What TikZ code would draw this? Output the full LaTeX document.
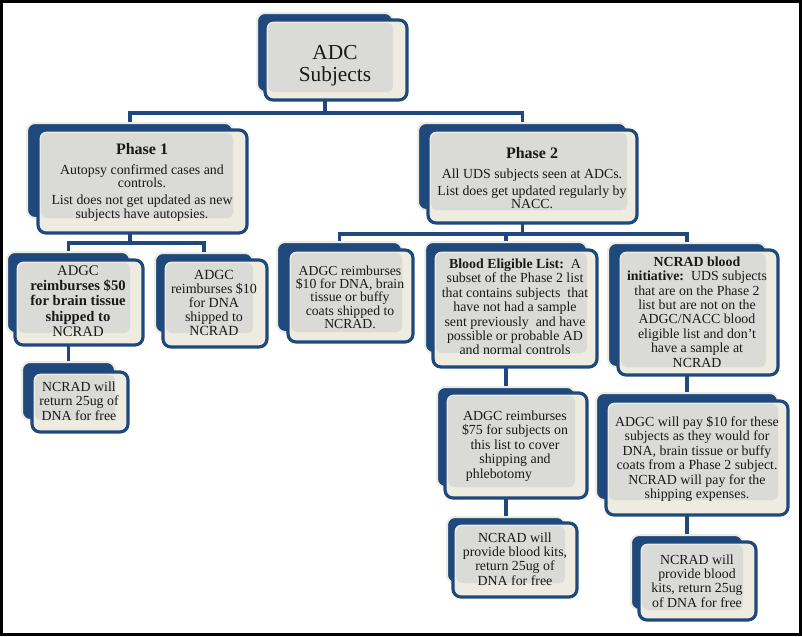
\documentclass[tikz,border=0pt]{standalone}
\usepackage{fontspec}
\setmainfont{Liberation Serif}
\usetikzlibrary{backgrounds}
\definecolor{dkblue}{RGB}{31,73,125}
\definecolor{cream}{RGB}{238,236,225}
\definecolor{boxgray}{RGB}{218,219,215}
\definecolor{ink}{RGB}{25,25,25}
\newcommand\bk[5]{\node[bkst, minimum width={(#4-#2)*0.75pt}, minimum height={(#5-#3)*0.75pt}] (#1) at ({(#2+#4)/2},{(#3+#5)/2}) {};}
\newcommand\fr[5]{\draw[frst] (#2,#3) rectangle (#4,#5); \fill[grst] ({#2+3},{#3+3}) rectangle (#1.south east);}
\begin{document}
\begin{tikzpicture}[x=0.75pt,y=-0.75pt,
  bkst/.style={draw=cream, line width=1.5pt, fill=dkblue, rounded corners=6pt, inner sep=0pt, outer sep=0pt},
  frst/.style={draw=dkblue, line width=2.4pt, fill=cream, rounded corners=6pt},
  grst/.style={fill=boxgray, rounded corners=4pt},
  conn/.style={draw=dkblue, line width=2.8pt},
  txt/.style={align=center, inner sep=0pt, text=ink, font=\rmfamily\fontsize{10.4}{10.8}\selectfont}]
\useasboundingbox (0,0) rectangle (802,636);
% boxes
\bk{adc}{257}{13}{393}{92}   \fr{adc}{265}{20}{407}{100}
\bk{p1}{27}{123}{233}{218}   \fr{p1}{38}{130}{247}{233}
\bk{p2}{418}{123}{627}{210}  \fr{p2}{428}{130}{637}{223}
\bk{c1}{7}{252}{130}{333}    \fr{c1}{15}{260}{143}{345}
\bk{g1}{22}{362}{115}{420}   \fr{g1}{32}{372}{128}{432}
\bk{c2}{155}{253}{253}{333}  \fr{c2}{163}{260}{267}{347}
\bk{ca}{277}{242}{402}{332}  \fr{ca}{288}{250}{413}{342}
\bk{cb}{425}{242}{587}{353}  \fr{cb}{433}{250}{597}{367}
\bk{cc}{608}{243}{766}{367}  \fr{cc}{618}{250}{778}{375}
\bk{gb1}{437}{387}{575}{487} \fr{gb1}{445}{393}{587}{498}
\bk{gb2}{447}{517}{565}{583} \fr{gb2}{453}{523}{577}{597}
\bk{gc1}{596}{393}{778}{500} \fr{gc1}{606}{401}{788}{515}
\bk{gc2}{631}{535}{743}{610} \fr{gc2}{639}{542}{756}{620}
% connectors
\coordinate (bar0) at (0,113);
\coordinate (bar1) at (0,243);
\coordinate (bar2) at (0,234);
\begin{scope}[on background layer]
\draw[conn] (p1.center) |- (bar0 -| adc.center) -| (p2.center);
\draw[conn] (adc.center) -- (bar0 -| adc.center);
\draw[conn] (c1.center) |- (bar1 -| p1.center) -| (c2.center);
\draw[conn] (p1.center) -- (bar1 -| p1.center);
\draw[conn] (ca.center) |- (bar2 -| cb.center) -| (cc.center);
\draw[conn] (p2.center) -- (bar2 -| p2.center);
\draw[conn] (cb.center) -- (bar2 -| cb.center);
\draw[conn] (c1.center) -- (g1.center);
\draw[conn] (cb.center) -- (gb1.center);
\draw[conn] (gb1.center) -- (gb2.center);
\draw[conn] (cc.center) -- (gc1.center);
\draw[conn] (gc1.center) -- (gc2.center);
\end{scope}
% texts
\node[txt, font=\rmfamily\fontsize{16}{16.5}\selectfont] (tadc) at (335,66) {ADC\\Subjects};
\node[txt, font=\rmfamily\fontsize{10.4}{10}\selectfont] (tp1) at (142,182) {{\fontsize{12}{13}\selectfont\bfseries Phase 1}\\[5pt] Autopsy confirmed cases and\\ controls.\\[3pt] List does not get updated as new\\ subjects have autopsies.};
\node[txt, font=\rmfamily\fontsize{10.4}{10}\selectfont] (tp2) at (532,178) {{\fontsize{12}{13}\selectfont\bfseries Phase 2}\\[5pt] All UDS subjects seen at ADCs.\\[3pt] List does get updated regularly by\\ NACC.};
\node[txt, font=\rmfamily\fontsize{11}{11.5}\selectfont] (tc1) at (78,301) {ADGC\\\textbf{reimburses \$50}\\\textbf{for brain tissue}\\\textbf{shipped to}\\NCRAD};
\node[txt] (tg1) at (79,401) {NCRAD will\\return 25ug of\\DNA for free};
\node[txt, font=\rmfamily\fontsize{10.5}{10.6}\selectfont] (tc2) at (214,303) {ADGC\\reimburses \$10\\for DNA\\shipped to\\NCRAD};
\node[txt, font=\rmfamily\fontsize{10.3}{10}\selectfont] (tca) at (350,297) {ADGC reimburses\\\$10 for DNA, brain\\tissue or buffy\\coats shipped to\\NCRAD.};
\node[txt] (tcb) at (515,307) {\textbf{Blood Eligible List:}\ \ A\\subset of the Phase 2 list\\that contains subjects\ \ that\\have not had a sample\\sent previously\ \ and have\\possible or probable AD\\and normal controls};
\node[txt] (tcc) at (697,312) {\textbf{NCRAD blood}\\\textbf{initiative:}\ \ UDS subjects\\that are on the Phase 2\\list but are not on the\\ADGC/NACC blood\\eligible list and don't\\have a sample at\\NCRAD};
\node[txt] (tgb1) at (515,446) {ADGC reimburses\\\$75 for subjects on\\this list to cover\\shipping and\\\hspace*{-24pt}phlebotomy};
\node[txt] (tgb2) at (515,559) {NCRAD will\\provide blood kits,\\return 25ug of\\DNA for free};
\node[txt] (tgc1) at (697,459) {ADGC will pay \$10 for these\\subjects as they would for\\DNA, brain tissue or buffy\\coats from a Phase 2 subject.\\NCRAD will pay for the\\shipping expenses.};
\node[txt] (tgc2) at (697,581) {NCRAD will\\provide blood\\kits, return 25ug\\of DNA for free};
% frame
\draw[black, line width=2.6pt] (1.75,1.75) rectangle (800.25,634.25);
\end{tikzpicture}
\end{document}
